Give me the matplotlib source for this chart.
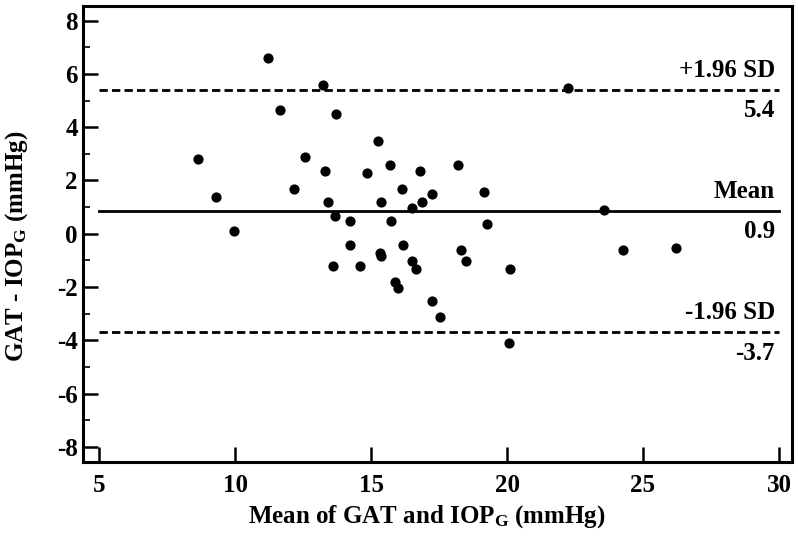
import matplotlib
matplotlib.use("Agg")
import matplotlib.pyplot as plt
from matplotlib.ticker import MultipleLocator

plt.rcParams["font.family"] = ["Liberation Serif", "DejaVu Serif"]
plt.rcParams["font.weight"] = "bold"
plt.rcParams["mathtext.fontset"] = "custom"
plt.rcParams["mathtext.rm"] = "Liberation Serif:bold"
plt.rcParams["mathtext.default"] = "rm"
plt.rcParams["axes.unicode_minus"] = False

# mean of GAT and IOP_G (mmHg)
mean_vals = [
    8.62, 9.30, 9.95, 11.21, 11.64, 12.17, 12.56, 13.22, 13.29, 13.73,
    13.40, 13.66, 14.24, 14.22, 13.60, 14.59, 15.24, 14.84, 15.69, 15.38,
    15.74, 15.34, 15.38, 16.14, 16.79, 16.49, 16.89, 17.23, 16.19, 16.49,
    16.65, 15.88, 16.00, 17.23, 17.53, 18.18, 18.30, 18.49, 19.17, 19.28,
    22.23, 20.12, 20.07, 23.55, 24.28, 26.23,
]
# difference GAT - IOP_G (mmHg)
diff_vals = [
    2.80, 1.37, 0.09, 6.58, 4.66, 1.68, 2.88, 5.59, 2.37, 4.48,
    1.18, 0.68, 0.49, -0.41, -1.23, -1.23, 3.47, 2.28, 2.57, 1.18,
    0.49, -0.73, -0.84, 1.68, 2.37, 0.97, 1.18, 1.49, -0.43, -1.02,
    -1.32, -1.81, -2.02, -2.53, -3.13, 2.57, -0.61, -1.02, 1.57, 0.38,
    5.47, -1.34, -4.12, 0.88, -0.61, -0.53,
]

bias = 0.86
upper_loa = 5.4
lower_loa = -3.7
line_span = [5, 30]

fig = plt.figure(figsize=(7.98, 5.38), dpi=100)
ax = fig.add_axes([0.1044, 0.1418, 0.8881, 0.8476])

ax.scatter(mean_vals, diff_vals, s=54, color="black", zorder=3, linewidths=0)

dash = (0, (3.0, 1.5))
ax.plot(line_span, [bias, bias], color="black", lw=2.0)
ax.plot(line_span, [upper_loa, upper_loa], color="black", lw=2.0, ls=dash)
ax.plot(line_span, [lower_loa, lower_loa], color="black", lw=2.0, ls=dash)

lab_kw = dict(ha="right", fontsize=18, fontweight="bold")
ax.text(29.85, upper_loa + 0.3, "+1.96 SD", va="bottom", **lab_kw)
ax.text(29.85, upper_loa - 0.35, f"{upper_loa:.1f}", va="top", **lab_kw)
ax.text(29.85, bias + 0.3, "Mean", va="bottom", **lab_kw)
ax.text(29.85, bias - 0.35, f"{bias:.1f}", va="top", **lab_kw)
ax.text(29.85, lower_loa + 0.3, "-1.96 SD", va="bottom", **lab_kw)
ax.text(29.85, lower_loa - 0.35, f"{lower_loa:.1f}", va="top", **lab_kw)

ax.set_xlim(4.42, 30.48)
ax.set_ylim(-8.56, 8.56)
ax.set_xticks([5, 10, 15, 20, 25, 30])
ax.set_yticks([-8, -6, -4, -2, 0, 2, 4, 6, 8])
ax.yaxis.set_minor_locator(MultipleLocator(1))

ax.tick_params(axis="both", which="major", direction="in", length=11, width=1.8,
               labelsize=18, top=False, right=False)
ax.tick_params(axis="x", which="major", pad=9)
ax.tick_params(axis="y", which="major", pad=4)
ax.tick_params(axis="y", which="minor", direction="in", length=5, width=1.2, right=False)
for lbl in ax.get_xticklabels() + ax.get_yticklabels():
    lbl.set_fontweight("bold")

for sp in ax.spines.values():
    sp.set_linewidth(2.2)

ax.set_xlabel("Mean of GAT and IOP$_{G}$ (mmHg)", fontsize=18, fontweight="bold")
ax.xaxis.set_label_coords(0.485, -0.134)
ax.xaxis.label.set_verticalalignment("baseline")
ax.set_ylabel("GAT - IOP$_{G}$ (mmHg)", fontsize=18, fontweight="bold")
ax.yaxis.set_label_coords(-0.075, 0.473)

fig.savefig("out.png", dpi=100, facecolor="white")
